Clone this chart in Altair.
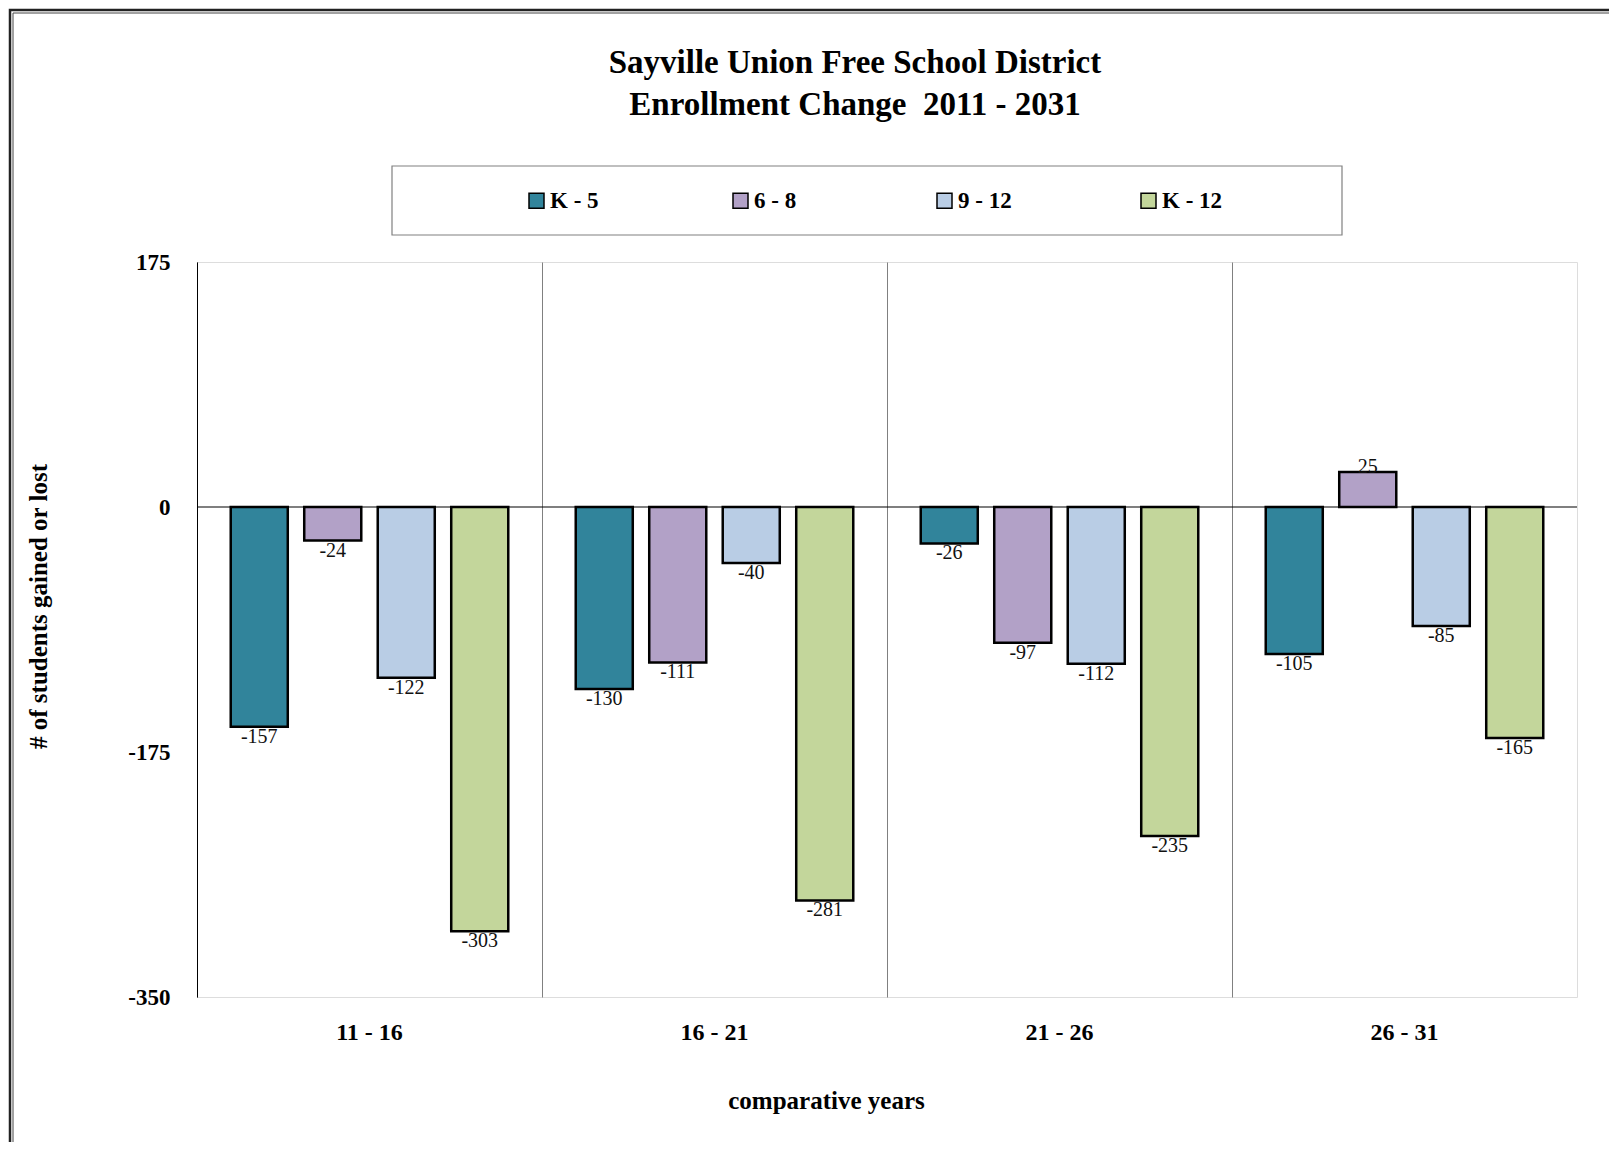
import altair as alt
import pandas as pd

periods = ["11 - 16", "16 - 21", "21 - 26", "26 - 31"]
grades = ["K - 5", "6 - 8", "9 - 12", "K - 12"]
k5 = [-157, -130, -26, -105]
g68 = [-24, -111, -97, 25]
g912 = [-122, -40, -112, -85]
k12 = [-303, -281, -235, -165]
colors = ["#31849B", "#B2A1C7", "#B9CDE5", "#C3D69B"]
y_ticks = [175, 0, -175, -350]

rows = []
for g, vals in zip(grades, [k5, g68, g912, k12]):
    for p, v in zip(periods, vals):
        rows.append({"period": p, "grade": g, "value": v, "label": str(v)})
df = pd.DataFrame(rows)

FONT = "Liberation Serif"
W, H = 1380, 735

x = alt.X(
    "period:N", sort=periods,
    scale=alt.Scale(paddingInner=0, paddingOuter=0),
    axis=alt.Axis(
        title="comparative years", labelFont=FONT, labelFontSize=24, labelFontWeight="bold",
        labelColor="black", labelPadding=23, labelAngle=0, ticks=False, domain=False,
        grid=True, bandPosition=0, gridColor="#808080", gridWidth=1,
        titleFont=FONT, titleFontSize=25, titleFontWeight="bold", titleColor="black",
        titleX=629, titleY=103, titleBaseline="middle", titleAlign="center",
    ),
)
y = alt.Y(
    "value:Q",
    scale=alt.Scale(domain=[-350, 175], nice=False, zero=False),
    axis=alt.Axis(
        values=y_ticks, title="# of students gained or lost", grid=False, ticks=False,
        domainColor="black", domainWidth=1, labelFont=FONT, labelFontSize=23,
        labelFontWeight="bold", labelColor="black", labelPadding=27,
        labelExpr="datum.value < 0 ? '-' + abs(datum.value) : '' + datum.value",
        titleFont=FONT, titleFontSize=25, titleFontWeight="bold", titleColor="black",
        titleX=-159, titleY=344, titleAngle=270, titleAlign="center", titleBaseline="middle",
    ),
)
xoff = alt.XOffset("grade:N", sort=grades, scale=alt.Scale(paddingInner=0.224, paddingOuter=0.459))
color = alt.Color(
    "grade:N", sort=grades, scale=alt.Scale(domain=grades, range=colors),
    legend=alt.Legend(
        title=None, orient="none", legendX=328, legendY=-73, direction="horizontal",
        gridAlign="all", columnPadding=118, symbolType="square", symbolSize=225,
        symbolStrokeColor="black", symbolStrokeWidth=1.5, labelOffset=2,
        labelFont=FONT, labelFontSize=23, labelFontWeight="bold", labelColor="black",
        labelBaseline="middle", padding=0,
    ),
)

one = pd.DataFrame({"a": [0]})
outer = alt.Chart(one).mark_rect(fillOpacity=0, stroke="#222", strokeWidth=2.5).encode(
    x=alt.value(-187), x2=alt.value(1440), y=alt.value(-252), y2=alt.value(900))
inner = alt.Chart(one).mark_rect(fillOpacity=0, stroke="#444", strokeWidth=1).encode(
    x=alt.value(-184), x2=alt.value(1437), y=alt.value(-249), y2=alt.value(897))
legbox = alt.Chart(one).mark_rect(fillOpacity=0, stroke="#808080", strokeWidth=1.2).encode(
    x=alt.value(195), x2=alt.value(1145), y=alt.value(-96), y2=alt.value(-27))

zero = alt.Chart(pd.DataFrame({"z": [0]})).mark_rule(color="black", strokeWidth=1.2).encode(y="z:Q")

bars = alt.Chart(df).mark_bar(stroke="black", strokeWidth=2.5).encode(
    x=x, y=y, y2=alt.datum(0), xOffset=xoff, color=color)

neg = alt.Chart(df).transform_filter("datum.value < 0").mark_text(
    baseline="middle", dy=10, font=FONT, fontSize=20, color="#111").encode(
    x="period:N", y="value:Q", xOffset=alt.XOffset("grade:N", sort=grades), text="label:N")
pos = alt.Chart(df).transform_filter("datum.value >= 0").mark_text(
    baseline="middle", dy=-5, font=FONT, fontSize=20, color="#111").encode(
    x="period:N", y="value:Q", xOffset=alt.XOffset("grade:N", sort=grades), text="label:N")

chart = alt.layer(outer, inner, legbox, zero, bars, neg, pos).properties(
    width=W, height=H,
    title=alt.TitleParams(
        ["Sayville Union Free School District", "Enrollment Change\u00a0 2011 - 2031"],
        font=FONT, fontSize=33, fontWeight="bold", color="black", anchor="middle",
        frame="group", dx=-32, offset=-113, lineHeight=42,
    ),
    autosize=alt.AutoSizeParams(type="none"),
    padding={"left": 189, "top": 254, "right": 32, "bottom": 145},
).configure_view(stroke="#555", strokeWidth=1.2).configure(background="white")

chart.save("out.html", embed_options={"renderer": "svg", "actions": False})
